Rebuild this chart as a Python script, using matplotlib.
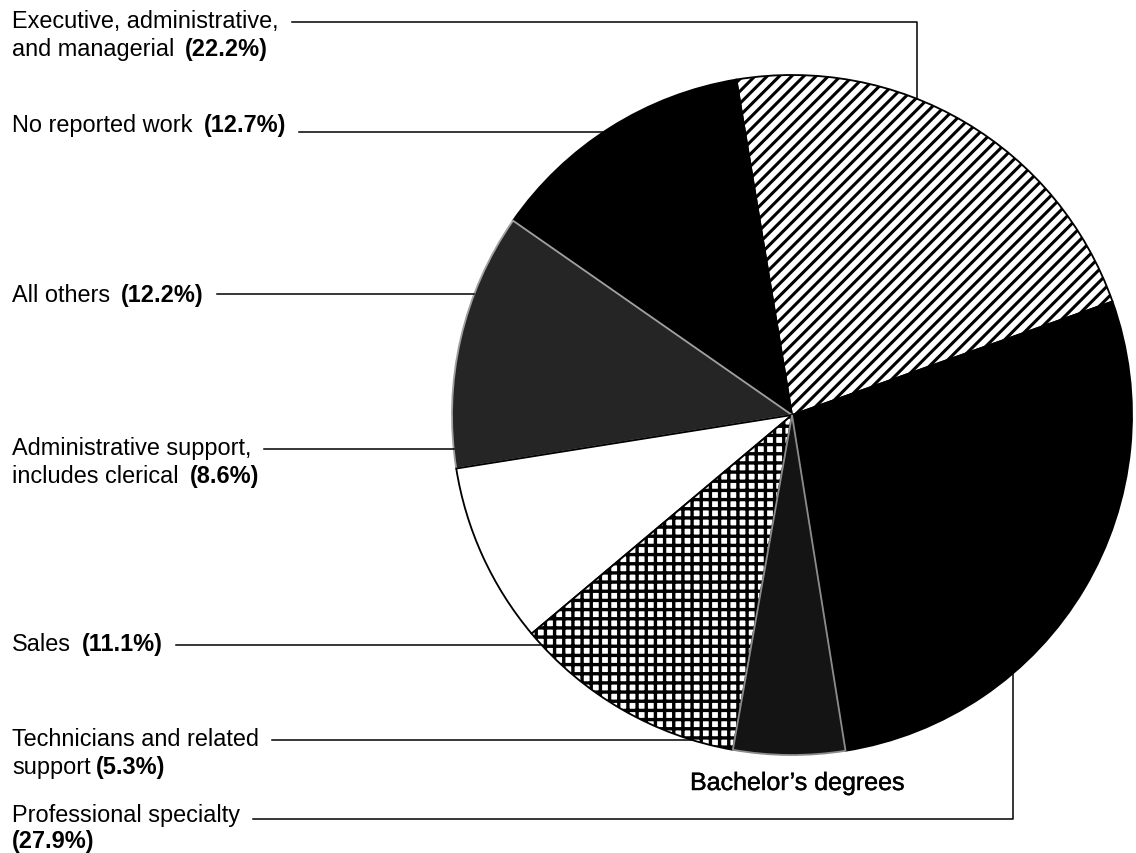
import matplotlib.pyplot as plt
import matplotlib.patheffects as pe
import numpy as np

plt.rcParams['font.family'] = ['Liberation Sans', 'DejaVu Sans']
plt.rcParams['hatch.linewidth'] = 1.5

# data
categories = ["Executive, administrative,\nand managerial",
              "No reported work",
              "All others",
              "Administrative support,\nincludes clerical",
              "Sales",
              "Technicians and related\nsupport",
              "Professional specialty\n"]
shares = [22.2, 12.7, 12.2, 8.6, 11.1, 5.3, 27.9]
title = "Bachelor\u2019s degrees"

# slice styles
faces = ['white', 'black', '#252525', 'white', 'white', '#141414', 'black']
hatches = ['///', None, None, None, '++', None, None]
edges = ['black', 'black', '#a0a0a0', 'black', 'black', '#8c8c8c', 'black']
hatch_lw = [2.0, 1, 1, 1, 2.2, 1, 1]

# layout in pixels of the 1136x853 picture (y measured from the top)
W, H, DPI = 1136, 853, 110
cx, cy, R = 792, 415, 340
text_x = 12
baselines = [28, 132, 302, 455, 651, 746, 822]
line_steps = [28, 28, 28, 28, 28, 28, 26]
leader_y = [22, 132, 294, 449, 645, 740, 819]
gaps = [11, 11, 11, 11, 11, 5, 0]
fs = 23.5 * 72 / DPI

fig = plt.figure(figsize=(W / DPI, H / DPI), dpi=DPI)
ax = fig.add_axes([0, 0, 1, 1])

wedges, _ = ax.pie(shares, startangle=19.5, center=(cx, H - cy), radius=R,
                   wedgeprops=dict(linewidth=1.2))
for i, w in enumerate(wedges):
    w.set_facecolor(faces[i])
    w.set_edgecolor(edges[i])
    if hatches[i]:
        w.set_hatch(hatches[i])
        try:
            w.set_hatch_linewidth(hatch_lw[i])
        except AttributeError:
            pass
wedges[5].set_zorder(3)

ax.set_xlim(0, W)
ax.set_ylim(0, H)
ax.set_aspect('equal')
ax.axis('off')

renderer = fig.canvas.get_renderer()


def circle_x(y):
    return cx - np.sqrt(R ** 2 - (y - cy) ** 2)


def circle_y(x, sign):
    return cy + sign * np.sqrt(R ** 2 - (x - cx) ** 2)


for i, cat in enumerate(categories):
    lines = cat.split("\n")
    first_right = 0
    for j, line in enumerate(lines):
        yb = H - (baselines[i] + j * line_steps[i])
        right = text_x
        if line:
            t = ax.text(text_x, yb, line, fontsize=fs, va='baseline', ha='left')
            bb = t.get_window_extent(renderer)
            right = bb.x1
        if j == 0:
            first_right = right
        if j == len(lines) - 1:
            x_pct = right + gaps[i] if line else text_x
            ax.text(x_pct, yb, f"({shares[i]:.1f}%)", fontsize=fs,
                    fontweight='bold', va='baseline', ha='left')
            if len(lines) == 1:
                tb = ax.texts[-1].get_window_extent(renderer)
                first_right = tb.x1

    x0 = first_right + 13
    ly = leader_y[i]
    if i == 0:
        xs = [x0, 917, 917]
        ys = [ly, ly, circle_y(917, -1)]
    elif i == len(categories) - 1:
        xs = [x0, 1013, 1013]
        ys = [ly, ly, circle_y(1013, 1)]
    else:
        xs = [x0, circle_x(ly)]
        ys = [ly, ly]
    ax.plot(xs, [H - y for y in ys], color='black', lw=1.0, zorder=4)

ax.text(797, H - 790, title, fontsize=25 * 72 / DPI, ha='center', va='baseline',
        path_effects=[pe.withStroke(linewidth=0.3, foreground='black')])

fig.savefig('out.png', dpi=DPI)
